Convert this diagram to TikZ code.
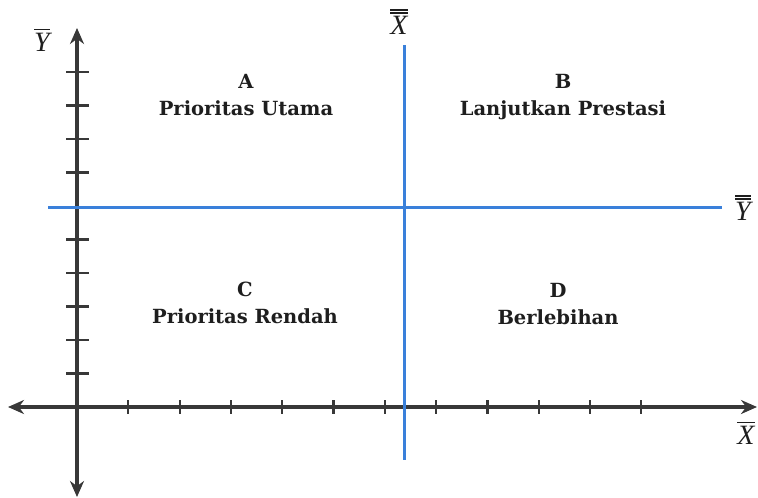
\documentclass[tikz,border=0pt]{standalone}
\usepackage{fontspec}
\setmainfont{DejaVu Serif}
\newfontfamily\mathletter{Liberation Serif}
\usetikzlibrary{arrows.meta,positioning}
\definecolor{axisgray}{HTML}{383838}
\definecolor{meanblue}{HTML}{3A80DA}
\definecolor{ink}{HTML}{1E1E1E}
\newcommand{\meanbar}[1]{\vbox{\hrule height 1.4pt\kern2.5pt\hbox{\mathletter\itshape #1}}}
\newcommand{\grandbar}[1]{\vbox{\hrule height 1.4pt\kern1.6pt\hrule height 1.4pt\kern2.5pt\hbox{\mathletter\itshape #1}}}
\tikzset{
  axisline/.style={
    line width=3.4pt, color=axisgray,
    {Stealth[length=16pt,width=14pt]}-{Stealth[length=16pt,width=14pt]}
  },
  tickmark/.style={line width=2.2pt, color=axisgray},
  meanline/.style={line width=3pt, color=meanblue},
  quadlabel/.style={
    font=\fontsize{19.5}{27}\selectfont\bfseries, align=center,
    text=ink, inner sep=0pt, anchor=north
  },
  axislabel/.style={font=\fontsize{28}{28}\selectfont, text=ink, inner sep=0pt},
}
\begin{document}
\begin{tikzpicture}[x=1pt, y=-1pt]
  \useasboundingbox (0,0) rectangle (758,498);
  % axes
  \coordinate (O) at (77,407);
  \coordinate (xl) at (8,407);
  \coordinate (xr) at (757,407);
  \coordinate (yt) at (77,28);
  \coordinate (yb) at (77,497);
  \draw[axisline] (xl) -- (xr);
  \draw[axisline] (yb) -- (yt);
  \foreach \k in {1,...,11}
    \draw[tickmark] ({77+51.3*\k},400) -- ++(0,14);
  \foreach \k in {1,...,5,7,8,9,10}
    \draw[tickmark] (66,{407-33.5*\k}) -- ++(23,0);
  % mean lines
  \coordinate (vt) at (404,45);
  \coordinate (vb) at (404,460);
  \coordinate (hl) at (48,207);
  \coordinate (hr) at (722,207);
  \draw[meanline] (vt) -- (vb);
  \draw[meanline] (hl) -- (hr);
  % quadrants
  \node[quadlabel] (qa) at (246,74) {A\\Prioritas Utama};
  \node[quadlabel] (qb) at (563,74) {B\\Lanjutkan Prestasi};
  \node[quadlabel] (qc) at (245,282) {C\\Prioritas Rendah};
  \node[quadlabel] (qd) at (558,283) {D\\Berlebihan};
  % axis labels
  \node[axislabel] (ylab) at (42,40) {\meanbar{Y}};
  \node[axislabel] (xgrand) at (399,22) {\grandbar{X}};
  \node[axislabel] (ygrand) at (743,208) {\grandbar{Y}};
  \node[axislabel] (xlab) at (746,433) {\meanbar{X}};
\end{tikzpicture}
\end{document}
